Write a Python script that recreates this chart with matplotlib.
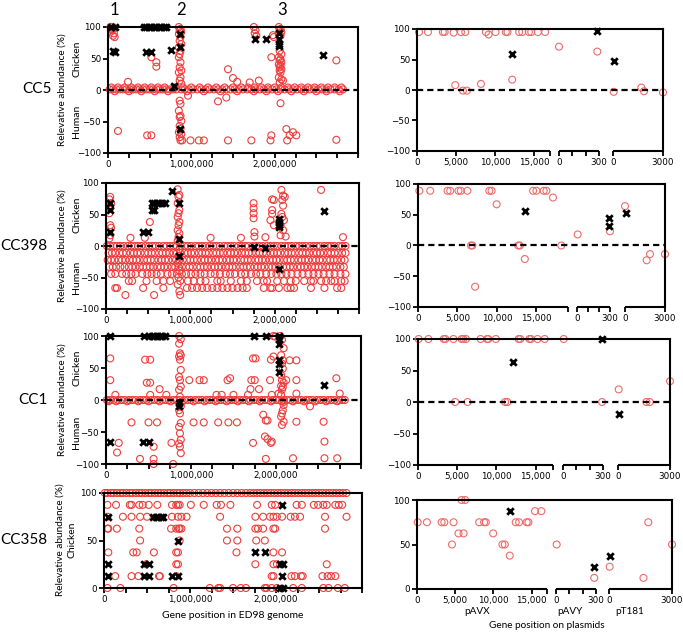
import numpy as np
import matplotlib.pyplot as plt

W, H = 683, 632
RED = '#f03c3c'
PINK = '#f06a6a'
LABEL_FONT = ['Lato', 'DejaVu Sans']

# ---------------- left panels: gene position (Mb) vs relative abundance (%) ----------------
# CC5
cc5_band_1 = [0.02, 0.06, 0.1, 0.14, 0.18, 0.22, 0.26, 0.3, 0.34, 0.38, 0.42, 0.46, 0.5, 0.54, 0.58, 0.62,
              0.66, 0.7, 0.74, 0.78, 0.82, 0.88, 0.92, 0.97, 1.02, 1.07, 1.12, 1.17, 1.22, 1.27, 1.32, 1.37,
              1.42, 1.47, 1.52, 1.57, 1.62, 1.67, 1.72, 1.77, 1.82, 1.87, 1.92, 1.97, 2.02, 2.07, 2.12, 2.17,
              2.22, 2.27, 2.32, 2.37, 2.42, 2.47, 2.52, 2.57, 2.62, 2.67, 2.72, 2.77, 2.82]
cc5_band_4 = [0.04, 0.12, 0.2, 0.28, 0.36, 0.44, 0.52, 0.6, 0.68, 0.8, 0.9, 1.0, 1.1, 1.2, 1.3, 1.4, 1.5,
              1.6, 1.68, 1.76, 1.84, 1.92, 2.0, 2.08, 2.16, 2.24, 2.32, 2.4, 2.48, 2.56, 2.64, 2.72, 2.8]
cc5_band_m2 = [0.08, 0.25, 0.4, 0.56, 0.72, 0.95, 1.15, 1.35, 1.55, 1.75, 1.9, 2.04, 2.2, 2.35, 2.5, 2.62, 2.78]
cc5_circ = [(0.03, 100), (0.06, 100), (0.07, 98), (0.05, 95), (0.07, 90), (0.06, 86), (0.08, 84),
            (0.12, -65), (0.24, 13), (0.47, -72), (0.52, -72), (0.52, 52), (0.58, 44), (0.58, 37),
            (0.85, 100), (0.87, 97), (0.86, 94), (0.88, 92), (0.85, 89), (0.87, 84), (0.86, 78), (0.88, 73),
            (0.85, 68), (0.87, 62), (0.86, 57), (0.85, 52), (0.87, 44), (0.86, 36), (0.88, 31), (0.85, 28),
            (0.87, 20), (0.86, 15), (0.88, 10), (0.86, -17), (0.87, -22), (0.85, -33), (0.87, -41),
            (0.86, -43), (0.88, -49), (0.86, -57), (0.87, -62), (0.85, -67), (0.88, -70), (0.86, -75),
            (0.87, -80), (0.89, -80), (0.99, -80), (1.09, -80), (1.15, -80), (1.44, -80), (1.72, -80),
            (1.95, -80), (2.15, -80), (2.74, -79), (0.96, -9), (1.32, -18), (1.42, -12), (1.44, 33),
            (1.5, 19), (1.55, 13), (1.7, 12), (1.81, 15), (1.75, 100), (1.77, 95), (1.76, 90), (1.78, 86),
            (1.96, 52), (1.96, -72), (1.98, 87), (1.99, 84), (2.07, -21), (2.05, 100), (2.07, 97),
            (2.06, 94), (2.08, 92), (2.05, 89), (2.07, 86), (2.06, 62), (2.08, 57), (2.05, 52), (2.07, 49),
            (2.06, 47), (2.08, 44), (2.05, 41), (2.07, 39), (2.06, 36), (2.08, 33), (2.06, 31), (2.07, 28),
            (2.05, 20), (2.08, 17), (2.1, 15), (2.06, 12), (2.14, -62), (2.22, -67), (2.26, -72),
            (2.18, -72), (2.74, 47)]
cc5_cross = [(0.04, 100), (0.08, 100), (0.06, 62), (0.08, 61), (0.43, 100), (0.46, 100), (0.49, 100),
             (0.52, 100), (0.55, 100), (0.58, 100), (0.61, 100), (0.64, 100), (0.67, 100), (0.7, 100),
             (0.45, 60), (0.51, 60), (0.76, 63), (0.79, 6), (0.86, 89), (0.86, 68), (0.86, -62),
             (1.76, 81), (1.89, 81), (2.05, 90), (2.05, 81), (2.05, 73), (2.05, 70), (2.58, 55)]

# CC398 (levels in ninths)
cc398_r0 = [0.01, 0.05, 0.09, 0.13, 0.17, 0.21, 0.26, 0.3, 0.34, 0.38, 0.42, 0.47, 0.51, 0.55, 0.59, 0.63,
            0.68, 0.72, 0.76, 0.8, 0.84, 0.89, 0.93, 0.97, 1.01, 1.06, 1.1, 1.14, 1.18, 1.23, 1.27, 1.31,
            1.35, 1.4, 1.44, 1.48, 1.52, 1.57, 1.61, 1.65, 1.69, 1.74, 1.78, 1.82, 1.86, 1.91, 1.95, 1.99,
            2.03, 2.08, 2.12, 2.16, 2.2, 2.25, 2.29, 2.33, 2.37, 2.42, 2.46, 2.5, 2.54, 2.59, 2.63, 2.67,
            2.71, 2.76, 2.8, 2.84]
cc398_r11 = [0.03, 0.07, 0.11, 0.16, 0.2, 0.24, 0.29, 0.33, 0.37, 0.41, 0.46, 0.5, 0.54, 0.58, 0.63, 0.67,
             0.71, 0.75, 0.8, 0.84, 0.88, 0.93, 0.97, 1.01, 1.05, 1.1, 1.14, 1.18, 1.22, 1.27, 1.31, 1.35,
             1.39, 1.44, 1.48, 1.52, 1.56, 1.61, 1.65, 1.69, 1.73, 1.78, 1.82, 1.86, 1.9, 1.95, 1.99, 2.03,
             2.07, 2.12, 2.16, 2.2, 2.24, 2.29, 2.33, 2.37, 2.41, 2.46, 2.5, 2.54, 2.58, 2.63, 2.67, 2.71,
             2.75, 2.8, 2.84]
cc398_r22 = [0.02, 0.06, 0.1, 0.15, 0.19, 0.23, 0.28, 0.32, 0.36, 0.4, 0.45, 0.49, 0.53, 0.57, 0.62, 0.66,
             0.7, 0.74, 0.79, 0.83, 0.87, 0.91, 0.96, 1.0, 1.04, 1.08, 1.13, 1.17, 1.21, 1.25, 1.3, 1.34,
             1.38, 1.43, 1.47, 1.51, 1.55, 1.6, 1.64, 1.68, 1.72, 1.77, 1.81, 1.85, 1.89, 1.94, 1.98, 2.02,
             2.06, 2.11, 2.15, 2.19, 2.23, 2.28, 2.32, 2.36, 2.4, 2.45, 2.49, 2.53, 2.57, 2.62, 2.66, 2.7,
             2.74, 2.79, 2.83]
cc398_r33 = [0.04, 0.08, 0.12, 0.17, 0.22, 0.27, 0.31, 0.35, 0.4, 0.44, 0.48, 0.52, 0.56, 0.61, 0.65, 0.69,
             0.73, 0.78, 0.82, 0.86, 0.9, 0.95, 0.99, 1.03, 1.08, 1.12, 1.16, 1.2, 1.25, 1.29, 1.33, 1.37,
             1.42, 1.46, 1.5, 1.54, 1.59, 1.63, 1.67, 1.71, 1.76, 1.8, 1.84, 1.88, 1.93, 1.97, 2.01, 2.05,
             2.1, 2.14, 2.18, 2.22, 2.27, 2.31, 2.35, 2.39, 2.44, 2.48, 2.52, 2.56, 2.61, 2.65, 2.69, 2.73,
             2.78, 2.82]
cc398_r44 = [0.06, 0.11, 0.19, 0.24, 0.3, 0.35, 0.43, 0.49, 0.54, 0.6, 0.65, 0.73, 0.78, 0.84, 0.9, 0.95,
             1.01, 1.06, 1.12, 1.17, 1.24, 1.29, 1.35, 1.42, 1.47, 1.53, 1.6, 1.65, 1.72, 1.78, 1.83, 1.9,
             1.96, 2.02, 2.08, 2.14, 2.2, 2.27, 2.33, 2.4, 2.46, 2.52, 2.58, 2.65, 2.71, 2.78, 2.84]
cc398_r56 = [0.27, 0.31, 0.48, 0.6, 0.68, 0.76, 0.88, 0.97, 1.04, 1.12, 1.18, 1.32, 1.36, 1.48, 1.6, 1.67,
             1.79, 1.87, 1.91, 2.03, 2.11, 2.19, 2.25, 2.35, 2.43, 2.46, 2.55, 2.61, 2.67, 2.71, 2.79, 2.83]
cc398_r67 = [0.11, 0.13, 0.44, 0.68, 0.96, 1.02, 1.08, 1.14, 1.2, 1.26, 1.32, 1.38, 1.44, 1.5, 1.56, 1.62,
             1.67, 1.87, 1.95, 1.97, 2.05, 2.15, 2.19, 2.23, 2.43, 2.59, 2.74, 2.79]
cc398_r78 = [0.23, 0.57, 0.88]
cc398_circ = [(0.05, 78), (0.04, 74), (0.06, 68), (0.05, 60), (0.04, 52), (0.05, 33), (0.06, 29),
              (0.05, 17), (0.04, 12), (0.52, 38), (0.46, 13), (0.29, 13), (0.85, 90), (0.87, 81),
              (0.86, 78), (0.85, 68), (0.87, 57), (0.86, 52), (0.85, 46), (0.87, 38), (0.86, 33),
              (0.85, 25), (0.87, 20), (0.86, 14), (0.85, 8), (0.87, -5), (0.86, -16), (0.85, -27),
              (0.87, -39), (0.86, -50), (0.85, -61), (0.87, -72), (1.24, 13), (1.6, 13), (1.75, 68),
              (1.75, 60), (1.75, 52), (1.75, 44), (1.76, 22), (1.76, 15), (1.89, 14), (1.95, 41),
              (1.97, 57), (1.99, 33), (1.97, 74), (1.99, 73), (1.97, 51), (2.08, 89), (2.1, 80), (2.09, 73),
              (2.1, 64), (2.08, 51), (2.09, 46), (2.11, 41), (2.07, 33), (2.1, 25), (2.07, 17), (2.13, 15),
              (2.12, 78), (2.55, 89), (2.81, 14)]
cc398_cross = [(0.05, 68), (0.05, 57), (0.05, 22), (0.44, 22), (0.5, 22), (0.54, 57), (0.57, 57),
               (0.54, 68), (0.57, 68), (0.6, 68), (0.63, 68), (0.66, 68), (0.7, 68), (0.78, 88), (0.86, 68),
               (0.86, 11), (0.87, -16), (1.75, -2), (1.89, -3), (2.05, 43), (2.05, 38), (2.05, 33),
               (2.05, 30), (2.05, -37), (2.59, 55)]

# CC1
cc1_band_0 = [0.01, 0.05, 0.09, 0.14, 0.18, 0.22, 0.27, 0.31, 0.35, 0.4, 0.44, 0.48, 0.53, 0.57, 0.61, 0.66,
              0.7, 0.74, 0.79, 0.83, 0.87, 0.92, 0.96, 1.0, 1.05, 1.09, 1.13, 1.18, 1.22, 1.26, 1.31, 1.35,
              1.39, 1.44, 1.48, 1.52, 1.57, 1.61, 1.65, 1.7, 1.74, 1.78, 1.83, 1.87, 1.91, 1.96, 2.0, 2.04,
              2.09, 2.13, 2.17, 2.22, 2.26, 2.3, 2.35, 2.39, 2.43, 2.48, 2.52, 2.56, 2.61, 2.65, 2.69, 2.74,
              2.78, 2.81]
cc1_band_m2 = [0.03, 0.12, 0.25, 0.38, 0.5, 0.63, 0.76, 0.9, 1.03, 1.16, 1.29, 1.42, 1.55, 1.68, 1.81,
               1.94, 2.07, 2.2, 2.33, 2.46, 2.59, 2.72]
cc1_circ = [(0.05, 65), (0.05, 31), (0.11, 8), (0.13, -82), (0.15, -67), (0.3, -35), (0.4, -92),
            (0.46, 63), (0.52, 63), (0.48, 27), (0.52, 27), (0.52, 8), (0.5, -35), (0.6, -35), (0.56, -73),
            (0.56, -92), (0.56, -100), (0.63, 17), (0.71, 8), (0.77, -67), (0.79, -100),
            (0.86, 100), (0.88, 95), (0.86, 88), (0.87, 73), (0.88, 70), (0.86, 68), (0.87, 63),
            (0.88, 47), (0.86, 36), (0.87, 31), (0.88, 21), (0.86, 16), (0.87, 5), (0.88, -10),
            (0.86, -16), (0.87, -21), (0.88, -36), (0.86, -42), (0.87, -52), (0.88, -62), (0.86, -68),
            (0.87, -73), (0.88, -83), (0.98, 31), (1.1, 31), (1.15, 31), (1.03, -35), (1.15, -35),
            (1.3, 8), (1.36, 8), (1.32, -35), (1.44, -35), (1.54, -35), (1.43, 31), (1.46, 34), (1.5, 8),
            (1.67, 8), (1.7, 17), (1.71, 31), (1.75, 31), (1.73, 65), (1.76, 65), (1.8, 17), (1.73, -67),
            (1.85, -23), (1.88, -32), (1.9, -32), (1.87, -57), (1.9, -61), (1.94, -67), (1.88, -92),
            (1.93, 31), (1.95, 8), (1.94, 63), (1.97, 68), (1.97, 100), (1.99, 99),
            (2.05, 100), (2.07, 94), (2.09, 81), (2.06, 70), (2.08, 62), (2.07, 57), (2.08, 49),
            (2.06, 39), (2.07, 31), (2.09, 27), (2.12, 31), (2.06, 22), (2.08, 20), (2.07, 16),
            (2.06, 8), (2.09, -3), (2.09, -8), (2.08, -16), (2.07, -21), (2.06, -26), (2.09, -34),
            (2.07, -39), (2.16, 62), (2.24, 62), (2.24, 31), (2.03, 10), (2.24, 10), (2.75, 10),
            (2.71, 34), (2.4, -10), (2.24, -34), (2.56, -34), (2.57, -65), (2.57, -91), (2.72, -91),
            (2.2, -91), (1.95, -65)]
cc1_cross = [(0.05, 100), (0.45, 100), (0.5, 100), (0.54, 100), (0.57, 100), (0.6, 100), (0.63, 100),
             (0.66, 100), (0.69, 100), (1.74, 100), (1.88, 100), (2.03, 100), (2.04, 96), (2.04, 88),
             (2.04, 63), (2.04, 57), (2.04, 44), (0.86, -5), (0.86, -9), (0.05, -65), (0.44, -65),
             (0.5, -65), (2.56, 23)]

# CC358 (levels in eighths)
cc358_r100 = [0.01, 0.04, 0.08, 0.11, 0.15, 0.19, 0.22, 0.26, 0.3, 0.33, 0.37, 0.41, 0.44, 0.48, 0.52,
              0.55, 0.59, 0.63, 0.66, 0.7, 0.74, 0.77, 0.81, 0.85, 0.88, 0.92, 0.96, 1.0, 1.05, 1.1, 1.15,
              1.2, 1.25, 1.3, 1.35, 1.4, 1.45, 1.5, 1.55, 1.6, 1.65, 1.7, 1.74, 1.78, 1.82, 1.86, 1.9,
              1.94, 1.98, 2.02, 2.06, 2.1, 2.14, 2.18, 2.22, 2.26, 2.3, 2.34, 2.38, 2.42, 2.46, 2.5, 2.54,
              2.58, 2.62, 2.66, 2.7, 2.74, 2.78, 2.82]
cc358_r88 = [0.04, 0.14, 0.3, 0.32, 0.41, 0.45, 0.52, 0.62, 0.79, 0.84, 0.86, 0.88, 1.01, 1.16, 1.31,
             1.36, 1.47, 1.78, 1.95, 1.99, 2.24, 2.3, 2.44, 2.49, 2.55, 2.59, 2.69, 2.73, 2.77]
cc358_r75 = [0.04, 0.22, 0.32, 0.42, 0.5, 0.79, 0.86, 0.9, 0.96, 1.35, 1.76, 1.85, 1.93, 1.97, 2.01,
             2.07, 2.17, 2.22, 2.28, 2.57, 2.82]
cc358_r63 = [0.04, 0.05, 0.15, 0.41, 0.78, 0.84, 0.87, 0.88, 0.9, 1.43, 1.55, 1.76, 1.79, 1.85, 1.97,
             1.99, 2.57]
cc358_r50 = [0.42, 0.88, 1.43, 1.55, 1.77, 1.87]
cc358_r38 = [0.05, 0.34, 0.38, 0.58, 0.84, 0.86, 1.54, 1.97, 2.07]
cc358_r25 = [0.49, 0.84, 0.86, 1.76, 1.97, 2.01, 2.59]
cc358_r13 = [0.13, 0.32, 0.4, 0.64, 0.65, 0.84, 1.95, 1.97, 2.18, 2.22, 2.29, 2.31, 2.54, 2.6, 2.64, 2.69]
cc358_r0 = [0.04, 0.19, 0.81, 1.23, 1.33, 1.35, 1.5, 1.59, 1.65, 1.87, 1.89, 1.95, 2.01, 2.2, 2.3, 2.55,
            2.61, 2.72, 2.8]
cc358_cross = [(0.05, 75), (0.05, 25), (0.05, 12.5), (0.47, 25), (0.52, 25), (0.47, 12.5), (0.52, 12.5),
               (0.57, 75), (0.6, 75), (0.63, 75), (0.66, 75), (0.69, 75), (0.79, 12.5), (0.86, 12.5),
               (0.86, 50), (1.76, 37.5), (1.87, 37.5), (2.07, 87.5), (2.05, 25), (2.08, 25),
               (2.07, 12.5), (2.05, 0), (2.08, 0)]

# ---------------- right panels: (plasmid, position bp, abundance %) ----------------
cc5_pl_circ = [('X', 255, 95), ('X', 1400, 95), ('X', 3300, 95), ('X', 3530, 95), ('X', 4680, 94),
               ('X', 5620, 95), ('X', 6170, 95), ('X', 8810, 95), ('X', 9150, 91), ('X', 10040, 95),
               ('X', 11360, 95), ('X', 11570, 95), ('X', 13060, 95), ('X', 13450, 95), ('X', 14300, 95),
               ('X', 14600, 95), ('X', 15450, 95), ('X', 16380, 95), ('X', 4890, 8), ('X', 5870, -1),
               ('X', 6380, -1), ('X', 8170, 10), ('X', 12170, 17), ('Y', 0, 71), ('Y', 287, 63),
               ('T', 40, -3), ('T', 1700, 4), ('T', 1860, -2), ('T', 3000, -4)]
cc5_pl_cross = [('X', 12170, 59), ('Y', 287, 97), ('T', 40, 48)]

cc398_pl_circ = [('X', 170, 89), ('X', 1550, 89), ('X', 3740, 89), ('X', 4080, 89), ('X', 5130, 89),
                 ('X', 5420, 89), ('X', 6260, 89), ('X', 9030, 89), ('X', 9320, 89), ('X', 9960, 67),
                 ('X', 14580, 89), ('X', 15000, 89), ('X', 15920, 89), ('X', 16260, 89),
                 ('X', 17100, 78), ('X', 6720, 0), ('X', 6890, 0), ('X', 12690, 0), ('X', 12900, 0),
                 ('X', 13530, -22), ('X', 7230, -67), ('X', 18150, 0), ('Y', 6, 18), ('Y', 300, 23),
                 ('T', 0, 64), ('T', 1625, -24), ('T', 1875, -14), ('T', 3000, -14)]
cc398_pl_cross = [('X', 13530, 56), ('Y', 294, 44), ('Y', 294, 32), ('T', 50, 53)]

cc1_pl_circ = [('X', 80, 100), ('X', 1330, 100), ('X', 3280, 100), ('X', 3490, 100), ('X', 4520, 100),
               ('X', 5560, 100), ('X', 5770, 100), ('X', 6100, 100), ('X', 7970, 100), ('X', 8800, 100),
               ('X', 8960, 100), ('X', 9920, 100), ('X', 12820, 100), ('X', 13030, 100),
               ('X', 14190, 100), ('X', 14400, 100), ('X', 15230, 100), ('X', 16140, 100),
               ('X', 4730, 0), ('X', 6310, 0), ('X', 11100, 0), ('X', 11390, 0), ('Y', 5, 100),
               ('Y', 293, 0), ('T', 40, 20), ('T', 1640, 0), ('T', 1830, 0), ('T', 3000, 33)]
cc1_pl_cross = [('X', 12110, 64), ('Y', 293, 100), ('T', 40, -19)]

cc358_pl_circ = [('X', 5830, 100), ('X', 6300, 100), ('X', 15430, 87.5), ('X', 16260, 87.5),
                 ('X', 90, 75), ('X', 1300, 75), ('X', 3220, 75), ('X', 3570, 75), ('X', 4780, 75),
                 ('X', 8130, 75), ('X', 8780, 75), ('X', 9000, 75), ('X', 12910, 75), ('X', 13350, 75),
                 ('X', 14350, 75), ('X', 14570, 75), ('X', 5430, 62.5), ('X', 6090, 62.5),
                 ('X', 9960, 62.5), ('X', 4570, 50), ('X', 11170, 50), ('X', 11480, 50),
                 ('X', 12130, 37.5), ('Y', 5, 50), ('Y', 287, 12.5), ('T', 1870, 75), ('T', 3000, 50),
                 ('T', 30, 25), ('T', 1640, 12.5)]
cc358_pl_cross = [('X', 12130, 87.5), ('Y', 287, 25), ('T', 30, 37.5)]

# ---------------- drawing ----------------
fig = plt.figure(figsize=(W / 100, H / 100), dpi=100)


def box(l, t, r, b):
    return fig.add_axes([l / W, 1 - b / H, (r - l) / W, (b - t) / H])


def ftext(px, py, s, **kw):
    kw.setdefault('family', LABEL_FONT)
    fig.text(px / W, 1 - py / H, s, ha='center', va='center', **kw)


def circles(ax, x, y, color=RED):
    ax.scatter(x, y, s=25, facecolors='none', edgecolors=color, linewidths=0.8,
               clip_on=False, zorder=2)


def crosses(ax, x, y):
    ax.scatter(x, y, s=22, marker='x', c='k', linewidths=2, clip_on=False, zorder=4)


def style(ax):
    for sp in ax.spines.values():
        sp.set_linewidth(1.5)
    ax.tick_params(direction='out', length=3.5, width=1.3, labelsize=6.3, pad=1.5)


def left_panel(rect, ylim, yticks, circ, cross, rows, zero=True):
    ax = box(*rect)
    for y, xs in rows:
        circles(ax, xs, [y] * len(xs))
    if circ:
        cx, cy = np.array(circ).T
        circles(ax, cx, cy)
    kx, ky = np.array(cross).T
    crosses(ax, kx, ky)
    if zero:
        ax.axhline(0, color='k', lw=1.6, ls=(0, (2.8, 1.8)), zorder=3)
    ax.set_xlim(0, 3)
    ax.set_ylim(*ylim)
    xt = np.arange(0, 3.01, 0.25)
    ax.set_xticks(xt, ['0' if v == 0 else ('{:,}'.format(int(v * 1e6)) if v in (1, 2) else '')
                       for v in xt])
    ax.set_yticks(yticks)
    style(ax)
    return ax


def right_panel(rect, segs, ylim, yticks, circ, cross, zero=True):
    l, t, r, b = rect
    ax = box(*rect)

    def xmap(code, v):
        s0, s1, vmax = segs[code]
        return s0 - l + v / vmax * (s1 - s0)

    cx = [xmap(p, v) for p, v, _ in circ]
    circles(ax, cx, [a for _, _, a in circ], color=PINK)
    kx = [xmap(p, v) for p, v, _ in cross]
    crosses(ax, kx, [a for _, _, a in cross])
    if zero:
        ax.axhline(0, color='k', lw=1.6, ls=(0, (2.8, 1.8)), zorder=3)
    ax.set_xlim(0, r - l)
    ax.set_ylim(*ylim)
    ax.spines['bottom'].set_visible(False)
    for code in 'XYT':
        s0, s1, _ = segs[code]
        ax.plot([s0 - l, s1 - l], [ylim[0]] * 2, color='k', lw=1.5, clip_on=False,
                solid_capstyle='butt', zorder=5)
    ticks = [('X', 0, '0'), ('X', 5000, '5,000'), ('X', 10000, '10,000'), ('X', 15000, '15,000'),
             ('X', segs['X'][2], ''), ('Y', 0, '0'), ('Y', 100, ''), ('Y', 200, ''), ('Y', 300, '300'),
             ('T', 0, '0'), ('T', 3000, '3000')]
    ax.set_xticks([xmap(c, v) for c, v, _ in ticks], [s for _, _, s in ticks])
    ax.set_yticks(yticks)
    style(ax)
    return ax


full = (-100, 100)
yt_full = [-100, -50, 0, 50, 100]

left_panel((108, 27, 358, 153), full, yt_full, cc5_circ, cc5_cross,
           [(1, cc5_band_1), (4, cc5_band_4), (-2, cc5_band_m2)])
left_panel((106, 183, 359, 309), full, yt_full, cc398_circ, cc398_cross,
           [(0, cc398_r0), (-11.1, cc398_r11), (-22.2, cc398_r22), (-33.3, cc398_r33),
            (-44.4, cc398_r44), (-55.6, cc398_r56), (-66.7, cc398_r67), (-77.8, cc398_r78)])
left_panel((106, 336, 361, 464), full, yt_full, cc1_circ, cc1_cross,
           [(0, cc1_band_0), (-2, cc1_band_m2)])
left_panel((104, 493, 362, 588), (0, 100), [0, 50, 100], None, cc358_cross,
           [(100, cc358_r100), (87.5, cc358_r88), (75, cc358_r75), (62.5, cc358_r63),
            (50, cc358_r50), (37.5, cc358_r38), (25, cc358_r25), (12.5, cc358_r13), (0, cc358_r0)],
           zero=False)

right_panel((417, 29, 663, 151), {'X': (417, 550, 17000), 'Y': (559, 599, 300), 'T': (613, 663, 3000)},
            full, yt_full, cc5_pl_circ, cc5_pl_cross)
right_panel((418, 184, 665, 307), {'X': (418, 568, 19000), 'Y': (577, 610, 300), 'T': (625, 665, 3000)},
            full, yt_full, cc398_pl_circ, cc398_pl_cross)
right_panel((418, 339, 670, 465), {'X': (418, 553, 17200), 'Y': (563, 603, 300), 'T': (618, 670, 3000)},
            full, yt_full, cc1_pl_circ, cc1_pl_cross)
right_panel((417, 500, 672, 589), {'X': (417, 547, 17000), 'Y': (556, 596, 300), 'T': (609, 672, 3000)},
            (0, 100), [0, 50, 100], cc358_pl_circ, cc358_pl_cross, zero=False)

# texts
for s, x in [('1', 114), ('2', 181), ('3', 282)]:
    ftext(x, 10, s, fontsize=12)
for s, x, y in [('CC5', 37, 89), ('CC398', 24, 246), ('CC1', 33, 400), ('CC358', 24, 540)]:
    ftext(x, y, s, fontsize=11)
for top, bot in [(27, 153), (183, 309), (336, 464)]:
    ftext(62, (top + bot) / 2, 'Relevative abundance (%)', fontsize=7.2, rotation=90)
    ftext(77, top + (bot - top) / 4, 'Chicken', fontsize=7.5, rotation=90)
    ftext(77, bot - (bot - top) / 4, 'Human', fontsize=7.5, rotation=90)
ftext(60, 540, 'Relevative abundance (%)', fontsize=7.2, rotation=90)
ftext(72, 540, 'Chicken', fontsize=7.5, rotation=90)
ftext(233, 615, 'Gene position in ED98 genome', fontsize=7.5)
ftext(477, 612, 'pAVX', fontsize=7.2)
ftext(570, 611, 'pAVY', fontsize=7.2)
ftext(630, 612, 'pT181', fontsize=7.2)
ftext(547, 626, 'Gene position on plasmids', fontsize=7.2)

fig.savefig('out.png', dpi=100)
